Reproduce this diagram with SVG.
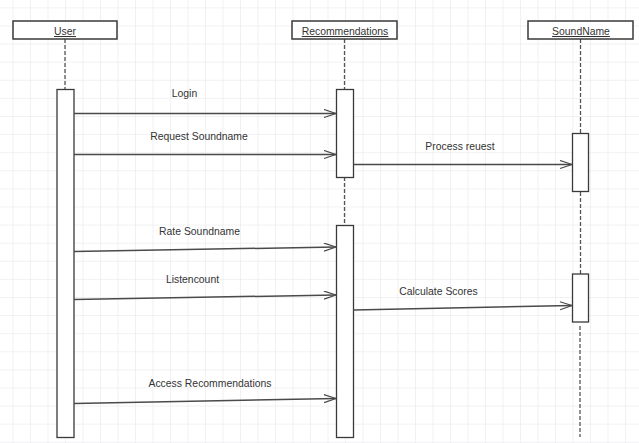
<svg xmlns="http://www.w3.org/2000/svg" width="639" height="443" viewBox="0 0 639 443">
<defs>
<pattern id="grid" x="12.5" y="7.4" width="17.5" height="18.1" patternUnits="userSpaceOnUse">
<path d="M0,0 L17.5,0 M0,0 L0,18.1" fill="none" stroke="#e3e3e8" stroke-width="1"/>
</pattern>
<marker id="open" markerUnits="userSpaceOnUse" markerWidth="14" markerHeight="10" refX="13" refY="4.5" orient="auto">
<path d="M1,0.5 L13,4.5 L1,8.5" fill="none" stroke="#4a4a4a" stroke-width="1.3"/>
</marker>
</defs>
<style>
.hdr{fill:#fff;stroke:#3a3a3a;stroke-width:1.5}
.act{fill:#fff;stroke:#3a3a3a;stroke-width:1.3}
.life{stroke:#555;stroke-width:1.3;stroke-dasharray:4,2;fill:none}
.msg{stroke:#4a4a4a;stroke-width:1.5;fill:none;marker-end:url(#open)}
text{font-family:"Liberation Sans",Arial,sans-serif;font-size:10.4px;fill:#333}
.t{text-anchor:middle}
.u{text-decoration:underline;text-anchor:middle}
</style>
<rect width="639" height="443" fill="#ffffff"/>
<rect width="639" height="443" fill="url(#grid)"/>
<g id="lifelines">
<line class="life" x1="65" y1="39" x2="65" y2="89"/>
<line class="life" x1="344.5" y1="39" x2="344.5" y2="89"/>
<line class="life" x1="344.5" y1="177" x2="344.5" y2="225"/>
<line class="life" x1="580.5" y1="39" x2="580.5" y2="133"/>
<line class="life" x1="580.5" y1="192" x2="580.5" y2="274"/>
<line class="life" x1="580" y1="326" x2="580" y2="437"/>
</g>
<g id="user">
<rect class="hdr" x="13" y="21" width="104" height="18"/>
<text class="u" x="65" y="35">User</text>
<rect class="act" x="57" y="89.5" width="17" height="348"/>
</g>
<g id="recommendations">
<rect class="hdr" x="292" y="21" width="105" height="18"/>
<text class="u" x="345" y="35">Recommendations</text>
<rect class="act" x="336.5" y="89.5" width="17" height="88"/>
<rect class="act" x="336.5" y="225.5" width="17" height="212"/>
</g>
<g id="soundname">
<rect class="hdr" x="528" y="21" width="105" height="18"/>
<text class="u" x="581" y="35">SoundName</text>
<rect class="act" x="572.5" y="133.5" width="16" height="58"/>
<rect class="act" x="572.5" y="274" width="16" height="48"/>
</g>
<g id="connectors">
<line class="msg" x1="74" y1="113.5" x2="336" y2="113.5"/>
<line class="msg" x1="74" y1="154.5" x2="336" y2="154.5"/>
<line class="msg" x1="353.5" y1="164.5" x2="572" y2="164.5"/>
<line class="msg" x1="74" y1="251.5" x2="336" y2="247"/>
<line class="msg" x1="74" y1="299.5" x2="336" y2="295"/>
<line class="msg" x1="353.5" y1="310" x2="572" y2="305.5"/>
<line class="msg" x1="74" y1="403.5" x2="336" y2="398.5"/>
</g>
<g id="labels">
<text class="t" x="184.5" y="96.5">Login</text>
<text class="t" x="199" y="139.5">Request Soundname</text>
<text class="t" x="460" y="149.5">Process reuest</text>
<text class="t" x="199.5" y="235">Rate Soundname</text>
<text class="t" x="192.5" y="282.5">Listencount</text>
<text class="t" x="438.5" y="295">Calculate Scores</text>
<text class="t" x="210" y="386.5">Access Recommendations</text>
</g>
</svg>
